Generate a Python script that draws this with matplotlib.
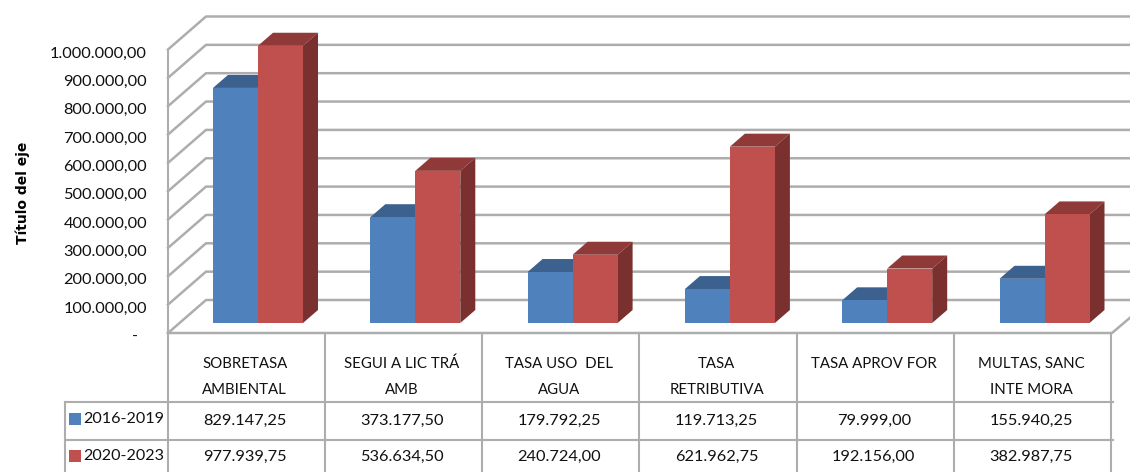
import matplotlib.pyplot as plt

plt.rcParams['font.family'] = ['Lato', 'DejaVu Sans']

# Data
categories = [['SOBRETASA', 'AMBIENTAL'], ['SEGUI A LIC TRÁ', 'AMB'], ['TASA USO  DEL', 'AGUA'],
              ['TASA', 'RETRIBUTIVA'], ['TASA APROV FOR'], ['MULTAS, SANC', 'INTE MORA']]
series_names = ['2016-2019', '2020-2023']
values_2016 = [829147.25, 373177.50, 179792.25, 119713.25, 79999.00, 155940.25]
values_2020 = [977939.75, 536634.50, 240724.00, 621962.75, 192156.00, 382987.75]
y_ticks = [0, 100000, 200000, 300000, 400000, 500000, 600000, 700000, 800000, 900000, 1000000]

W, H = 1130, 472
BLUE, BLUE_TOP = '#4F81BD', '#3D618F'
RED, RED_TOP, RED_SIDE = '#C0504D', '#8F3A38', '#7A302E'
GRID = '#ADADAD'
TEXT = '#111111'


def fmt(v):
    s = f'{v:,.2f}'
    return s.replace(',', '#').replace('.', ',').replace('#', '.')


fig = plt.figure(figsize=(W / 100, H / 100), dpi=100)

# bar axes: x in categories, y in values, covers the whole figure
PX_CAT = 157.3
PX_VAL = 283.5 / 1e6
X0, Y0 = 258, 323
ax = fig.add_axes([0, 0, 1, 1])
ax.set_xlim(-X0 / PX_CAT, (W - X0) / PX_CAT)
ax.set_ylim((Y0 - H) / PX_VAL, Y0 / PX_VAL)
ax.axis('off')

dx = lambda p: p / PX_CAT
dy = lambda p: p / PX_VAL
left = dx(168 - X0)
right = dx(1112 - X0)

# walls and gridlines
for v in y_ticks:
    front = v - dy(10)
    back = v + dy(23)
    ax.plot([left, left + dx(38), dx(W - X0)], [front, back, back], color=GRID, lw=1.8, zorder=1)
ax.plot([left, left], [-dy(10), 1e6 - dy(10)], color=GRID, lw=1.5, zorder=1)
ax.plot([left, right, right + dx(20)], [-dy(10), -dy(10), dy(7)], color=GRID, lw=1.8, zorder=1)

# bars
bw = dx(45)
for i in range(len(categories)):
    for off, v, c, top in [(-bw, values_2016[i], BLUE, BLUE_TOP), (0, values_2020[i], RED, RED_TOP)]:
        xa, xb = i + off, i + off + bw
        ax.fill([xa, xa + dx(15), xb + dx(15), xb], [v, v + dy(13), v + dy(13), v], color=top, lw=0, zorder=3)
        ax.fill([xb, xb + dx(15), xb + dx(15), xb], [0, dy(13), v + dy(13), v], color=RED_SIDE, lw=0, zorder=3)
        ax.bar(xa, v, bw, align='edge', color=c, lw=0, zorder=4)

# y tick labels
for v in y_ticks:
    label = fmt(v) if v else '-'
    ax.text(dx(147 - X0) if v else dx(138 - X0), v - dy(14), label, ha='right', va='center',
            fontsize=11.8, color=TEXT)
ax.text(dx(23 - X0), dy(Y0 - 193), 'Título del eje', rotation=90, ha='center', va='center',
        fontsize=10, fontweight='bold', color='black', family='DejaVu Sans')

# data table, drawn in pixels
tb = fig.add_axes([0, 0, 1, 1])
tb.set_xlim(0, W)
tb.set_ylim(H, 0)
tb.axis('off')
cells = [167.5 + PX_CAT * i for i in range(7)]
for x in cells:
    tb.plot([x, x], [333, H], color=GRID, lw=1.5)
tb.plot([65, 65], [402, H], color=GRID, lw=1.5)
for y in [402, 440]:
    tb.plot([65, 1113], [y, y], color=GRID, lw=1.5)

for i, lines in enumerate(categories):
    cx = cells[i] + PX_CAT / 2 - 1.5
    for j, line in enumerate(lines):
        tb.text(cx, 364 + j * 26, line, ha='center', va='center', fontsize=10.8, color=TEXT)
    tb.text(cx, 421, fmt(values_2016[i]), ha='center', va='center', fontsize=11.8, color=TEXT)
    tb.text(cx, 457, fmt(values_2020[i]), ha='center', va='center', fontsize=11.8, color=TEXT)

for name, y, c in zip(series_names, [419, 456], [BLUE, RED]):
    tb.fill([69, 81, 81, 69], [y - 6, y - 6, y + 6, y + 6], color=c, lw=0)
    tb.text(83, y, name, ha='left', va='center', fontsize=11.6, color=TEXT)

fig.savefig('out.png', dpi=100)
